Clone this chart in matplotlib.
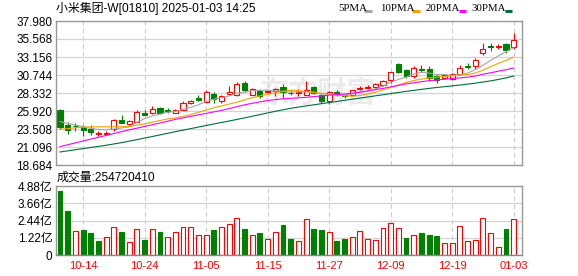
import matplotlib
matplotlib.use("Agg")
import matplotlib.pyplot as plt
from matplotlib.lines import Line2D

# 小米集团-W 日K (2024-10-08 ~ 2025-01-03)
dates = ["10-14", "10-24", "11-05", "11-15", "11-27", "12-09", "12-19", "01-03"]
date_pos = [3, 11, 19, 27, 35, 43, 51, 59]

opens = [26.03, 23.99, 23.95, 23.76, 23.55, 22.79, 22.85, 23.46, 24.78, 24.20,
         24.50, 25.70, 25.60, 26.35, 26.05, 25.70, 26.12, 27.00, 27.68, 27.15,
         28.25, 27.23, 28.25, 28.00, 29.68, 28.12, 28.55, 28.42, 28.55, 29.20,
         28.30, 28.30, 28.12, 29.15, 28.12, 27.23, 28.45, 28.05, 28.12, 28.85,
         29.00, 29.15, 29.45, 30.02, 32.25, 31.45, 30.65, 31.55, 31.54, 30.56,
         30.34, 30.21, 30.92, 32.00, 31.89, 33.68, 34.65, 34.50, 34.92, 34.56]
highs = [26.25, 24.48, 24.35, 24.00, 24.00, 23.23, 23.20, 24.90, 25.45, 24.75,
         26.10, 26.00, 26.60, 26.45, 26.30, 26.20, 27.20, 27.40, 28.10, 28.70,
         28.40, 28.10, 29.30, 29.80, 29.90, 29.00, 28.88, 28.80, 29.05, 29.58,
         28.70, 28.85, 29.90, 29.30, 28.20, 28.56, 28.79, 28.12, 28.80, 29.32,
         29.45, 29.70, 30.10, 31.20, 32.30, 31.50, 32.00, 32.10, 31.90, 30.80,
         30.90, 31.00, 32.10, 32.30, 33.00, 35.09, 35.00, 34.90, 35.00, 36.42]
lows = [23.55, 22.88, 23.20, 22.56, 22.75, 22.52, 22.75, 23.30, 24.30, 24.00,
        24.40, 25.35, 25.50, 25.55, 25.70, 25.60, 26.00, 26.90, 27.20, 27.00,
        27.00, 27.00, 28.10, 27.90, 28.42, 28.00, 27.68, 28.30, 27.90, 27.68,
        28.00, 27.90, 28.00, 28.20, 27.00, 26.92, 27.89, 27.60, 28.00, 28.80,
        28.90, 29.05, 29.30, 29.70, 31.00, 30.35, 30.30, 31.10, 30.00, 29.70,
        30.20, 30.10, 30.80, 31.60, 31.60, 33.40, 33.90, 34.20, 33.68, 34.21]
closes = [23.81, 23.36, 23.88, 23.32, 23.10, 22.96, 23.02, 24.70, 24.35, 24.55,
          25.80, 25.45, 26.25, 25.65, 25.95, 26.10, 27.00, 27.20, 27.45, 28.42,
          27.55, 27.90, 28.40, 29.50, 28.78, 28.88, 27.90, 28.60, 28.88, 28.42,
          28.38, 28.45, 28.69, 28.35, 27.30, 28.43, 28.25, 27.95, 28.69, 29.00,
          29.15, 29.60, 29.98, 31.09, 31.15, 30.56, 31.68, 31.40, 30.34, 30.02,
          30.78, 30.92, 31.68, 31.85, 32.78, 34.21, 34.50, 34.60, 34.12, 35.45]

# 均线
ma5 = [24.50, 24.25, 24.05, 23.80, 23.60, 23.45, 23.40, 23.50, 23.65, 23.80,
       24.40, 24.90, 25.25, 25.50, 25.75, 25.85, 26.15, 26.40, 26.75, 27.20,
       27.50, 27.70, 27.95, 28.30, 28.45, 28.65, 28.70, 28.70, 28.60, 28.55,
       28.45, 28.50, 28.55, 28.45, 28.25, 28.20, 28.15, 28.05, 28.20, 28.45,
       28.60, 28.85, 29.25, 29.75, 30.15, 30.45, 30.85, 31.10, 31.00, 30.80,
       30.80, 30.70, 30.75, 31.00, 31.45, 32.05, 32.70, 33.30, 33.85, 34.40]
ma10 = [23.46, 23.55, 23.68, 23.75, 23.80, 23.80, 23.80, 23.81, 23.81, 23.85,
        24.00, 24.20, 24.42, 24.65, 24.85, 25.00, 25.20, 25.45, 25.75, 26.05,
        26.35, 26.60, 26.85, 27.10, 27.40, 27.70, 27.95, 28.15, 28.35, 28.55,
        28.70, 28.65, 28.50, 28.40, 28.30, 28.15, 28.05, 27.95, 27.90, 28.00,
        28.20, 28.45, 28.75, 29.05, 29.40, 29.75, 30.00, 30.20, 30.35, 30.45,
        30.55, 30.62, 30.70, 30.80, 31.00, 31.40, 31.85, 32.30, 32.70, 33.14]
ma20 = [21.15, 21.40, 21.65, 21.90, 22.15, 22.40, 22.65, 22.90, 23.15, 23.40,
        23.62, 23.85, 24.08, 24.30, 24.55, 24.80, 25.00, 25.20, 25.40, 25.60,
        25.80, 26.00, 26.25, 26.50, 26.75, 26.95, 27.15, 27.32, 27.45, 27.55,
        27.62, 27.68, 27.75, 27.85, 27.95, 28.05, 28.12, 28.20, 28.30, 28.45,
        28.60, 28.78, 28.95, 29.15, 29.35, 29.55, 29.70, 29.85, 29.98, 30.08,
        30.18, 30.28, 30.36, 30.45, 30.60, 30.85, 31.05, 31.25, 31.45, 31.68]
ma30 = [20.43, 20.58, 20.73, 20.88, 21.03, 21.18, 21.33, 21.50, 21.68, 21.88,
        22.08, 22.30, 22.50, 22.72, 22.93, 23.15, 23.35, 23.56, 23.77, 23.98,
        24.18, 24.38, 24.58, 24.79, 25.00, 25.22, 25.44, 25.66, 25.88, 26.08,
        26.28, 26.44, 26.60, 26.75, 26.90, 27.05, 27.20, 27.35, 27.50, 27.65,
        27.80, 27.95, 28.10, 28.25, 28.40, 28.55, 28.68, 28.82, 28.95, 29.07,
        29.18, 29.29, 29.40, 29.52, 29.65, 29.80, 29.96, 30.14, 30.36, 30.60]

# 成交量 (亿股)
volumes = [4.55, 3.13, 1.68, 1.78, 1.56, 1.00, 1.26, 1.97, 1.63, 0.90,
           1.85, 1.07, 1.82, 1.63, 1.26, 1.63, 1.97, 1.97, 1.40, 1.40,
           1.78, 1.97, 2.18, 2.61, 1.85, 1.40, 1.56, 1.14, 1.61, 2.13,
           1.14, 0.97, 2.53, 1.85, 1.78, 1.61, 1.00, 1.14, 1.26, 1.68,
           1.14, 1.04, 1.90, 2.25, 1.90, 1.21, 1.40, 1.56, 1.42, 1.35,
           0.83, 0.83, 2.04, 0.97, 1.04, 2.61, 1.54, 0.54, 1.85, 2.547]

price_ticks = [18.684, 21.096, 23.508, 25.920, 28.332, 30.744, 33.156, 35.568, 37.980]
vol_ticks = [0, 1.22, 2.44, 3.66, 4.88]
vol_labels = ["0", "1.22亿", "2.44亿", "3.66亿", "4.88亿"]

RED = "#ff0000"
GREEN = "#008000"
FRAME = "#999999"
GRID = "#d4d4d4"
MIX = ["Liberation Sans", "Noto Sans CJK SC"]

W, H = 578, 276
fig = plt.figure(figsize=(W / 100, H / 100), dpi=100)
ax = fig.add_axes([56 / W, 1 - 165 / H, 466 / W, 144 / H])
axv = fig.add_axes([56 / W, 1 - 255 / H, 466 / W, 68.7 / H])

n = len(closes)
xs = list(range(n))

# 水印
ax.text(33.5, 28.4, "东方财富", fontsize=21, color="#ebebeb", fontweight="bold",
        family="Noto Sans CJK SC", ha="center", va="center", zorder=0.5)

# K线
for i in xs:
    o, h, l, c = opens[i], highs[i], lows[i], closes[i]
    up = c >= o
    col = RED if up else GREEN
    ax.vlines(i, l, h, color=col, lw=0.8, zorder=2)
    ax.bar(i, max(abs(c - o), 0.001), bottom=min(o, c), width=0.66,
           facecolor="white" if up else GREEN, edgecolor=col, lw=0.8, zorder=2.5)

ax.plot(xs, ma5, color="#a6a6a6", lw=0.8, zorder=3)
ax.plot(xs, ma10, color="#f5a300", lw=0.8, zorder=3)
ax.plot(xs, ma20, color="#ff00ff", lw=0.8, zorder=3)
ax.plot(xs, ma30, color="#006f36", lw=0.8, zorder=3)

# 成交量 (颜色按收盘价涨跌)
for i in xs:
    prev = closes[i - 1] if i > 0 else opens[i]
    up = closes[i] >= prev
    axv.bar(i, volumes[i], width=0.64, facecolor="white" if up else GREEN,
            edgecolor=RED if up else GREEN, lw=0.8, zorder=2)

for a in (ax, axv):
    a.set_xlim(-0.52, 60.08)
    for s in a.spines.values():
        s.set_color(FRAME)
        s.set_linewidth(1.0)
    a.vlines(date_pos, 0, 1, transform=a.get_xaxis_transform(), color="#cccccc",
             lw=0.8, linestyles=(0, (4, 3)), zorder=1)
    a.tick_params(length=0, pad=2.5, labelsize=8.5)

ax.set_ylim(price_ticks[0], price_ticks[-1])
ax.set_yticks(price_ticks)
ax.set_yticklabels(["%.3f" % v for v in price_ticks], family=MIX)
ax.grid(axis="y", color=GRID, lw=0.9, zorder=1)
ax.set_xticks([])

axv.set_ylim(0, 4.88)
axv.set_yticks(vol_ticks)
axv.set_yticklabels(vol_labels, family=MIX)
axv.grid(axis="y", color=GRID, lw=0.9, zorder=1)
axv.set_xticks(date_pos)
axv.set_xticklabels(dates, color=RED, family="Liberation Sans", fontsize=8)
axv.tick_params(axis="x", pad=4)
axv.spines["bottom"].set_color("#888888")


def px(x, y):
    return x / W, 1 - y / H


fig.text(*px(56, 8.5), "小米集团-W[01810] 2025-01-03 14:25", fontsize=8.6,
         family=MIX, ha="left", va="center")
fig.text(*px(57, 177.5), "成交量:254720410", fontsize=8.6, family=MIX,
         ha="left", va="center")

legend = [("5PMA", 338.5, 364, "#a6a6a6"), ("10PMA", 380, 412, "#f5a300"),
          ("20PMA", 425.5, 458.5, "#ff00ff"), ("30PMA", 471.5, 504.5, "#006f36")]
for name, tx, mx, col in legend:
    fig.text(*px(tx, 8.6), name, fontsize=7.8, family="Liberation Serif",
             ha="left", va="center")
    x0, y0 = px(mx, 10.8)
    x1, _ = px(mx + 7.5, 10.8)
    fig.add_artist(Line2D([x0, x1], [y0, y0], color=col, lw=2.2,
                          solid_capstyle="butt", transform=fig.transFigure))

fig.savefig("out.png", dpi=100)
